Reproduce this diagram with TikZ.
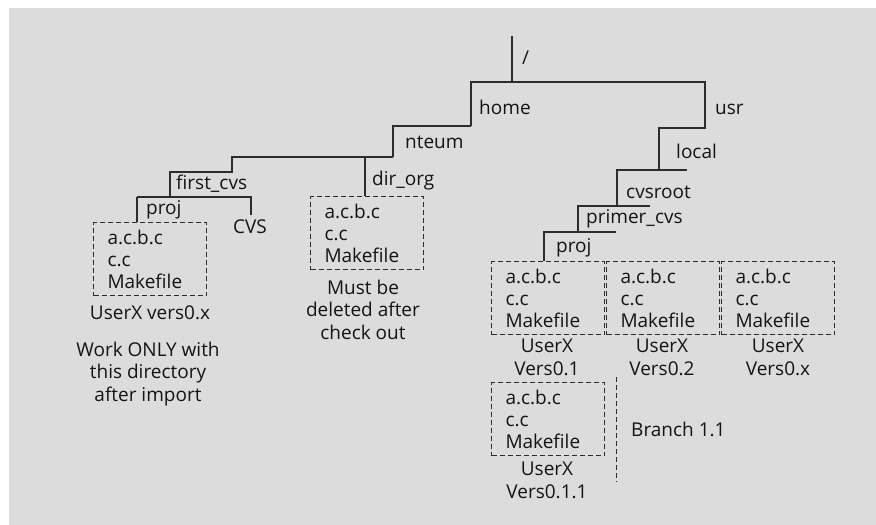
\documentclass[tikz,border=0pt]{standalone}
\usepackage{fontspec}
\setmainfont{Open Sans}
\definecolor{bg}{HTML}{DCDCDC}
\definecolor{ink}{HTML}{141414}
\begin{document}
\begin{tikzpicture}[x=1pt,y=-1pt,
  every node/.style={font=\fontsize{19}{22}\selectfont, text=ink, inner sep=0pt},
  lbl/.style={anchor=base west},
  captxt/.style={anchor=base, align=center, font=\fontsize{19}{22.5}\selectfont},
  tree/.style={draw=ink!90, line width=1.3pt},
  filebox/.style={draw=ink!90, dash pattern=on 5pt off 3pt, line width=1pt,
    anchor=north west, minimum width=113pt, minimum height=73pt,
    align=left, text width=85pt, inner xsep=14pt, inner ysep=0pt},
  branch/.style={draw=ink!90, dash pattern=on 5pt off 3pt, line width=1pt}]
\useasboundingbox (0,0) rectangle (876,525);
\fill[bg] (9,8) rectangle (876,525);

% files boxes
\node[filebox] (bx1) at (93,222) {a.c.b.c\\c.c\\Makefile};
\node[filebox] (bx2) at (310,196) {a.c.b.c\\c.c\\Makefile};
\node[filebox] (bx3) at (491,261) {a.c.b.c\\c.c\\Makefile};
\node[filebox] (bx4) at (606,261) {a.c.b.c\\c.c\\Makefile};
\node[filebox] (bx5) at (721,261) {a.c.b.c\\c.c\\Makefile};
\node[filebox] (bx6) at (491,382) {a.c.b.c\\c.c\\Makefile};

% tree coordinates
\coordinate (root) at (512,36);
\coordinate (rj) at (512,82);
\coordinate (hj) at (471,82);
\coordinate (uj) at (705,82);
\coordinate (h1) at (471,126);
\coordinate (h2) at (393,126);
\coordinate (nj) at (393,157);
\coordinate (u1) at (705,128);
\coordinate (u2) at (659,128);
\coordinate (lj) at (659,170);
\coordinate (lr) at (687,170);
\coordinate (ll) at (617,170);
\coordinate (cj) at (617,206);
\coordinate (cr) at (650,206);
\coordinate (cl) at (578,206);
\coordinate (pj) at (578,232);
\coordinate (pr) at (616,232);
\coordinate (pl) at (544,232);
\coordinate (pb) at (544,261);
\coordinate (nl) at (232,157);
\coordinate (dj) at (365,157);
\coordinate (db) at (365,196);
\coordinate (f1) at (232,172);
\coordinate (f2) at (170,172);
\coordinate (fj) at (170,197);
\coordinate (fl) at (137,197);
\coordinate (fr) at (251,197);
\coordinate (cvsb) at (251,215);
\coordinate (fb) at (137,222);
\coordinate (brt) at (616,377);
\coordinate (brb) at (616,482);

% tree lines
\draw[tree] (root) -- (rj);
\draw[tree] (h1) -- (hj) -- (uj) -- (u1) -- (u2) -- (lj);
\draw[tree] (h1) -- (h2) -- (nj);
\draw[tree] (ll) -- (lr);
\draw[tree] (lj) -- (ll) -- (cj);
\draw[tree] (cl) -- (cr);
\draw[tree] (cj) -- (cl) -- (pj);
\draw[tree] (pl) -- (pr);
\draw[tree] (pj) -- (pl) -- (pb);
\draw[tree] (nj) -- (nl) -- (f1) -- (f2) -- (fj);
\draw[tree] (dj) -- (db);
\draw[tree] (fl) -- (fr) -- (cvsb);
\draw[tree] (fl) -- (fb);
\draw[branch] (brt) -- (brb);

% labels
\node[lbl] (lroot) at (522,64) {/};
\node[lbl] (lhome) at (479,114) {home};
\node[lbl] (lusr) at (715,114) {usr};
\node[lbl] (lnteum) at (405,148) {nteum};
\node[lbl] (llocal) at (676,158) {local};
\node[lbl] (ldir) at (372,185) {dir\_org};
\node[lbl] (lfirst) at (176,189) {first\_cvs};
\node[lbl] (lcvsroot) at (626,198) {cvsroot};
\node[lbl] (lproj1) at (146,214) {proj};
\node[lbl] (lprimer) at (586,223) {primer\_cvs};
\node[lbl] (lcvs) at (233,233) {CVS};
\node[lbl] (lproj2) at (556,252) {proj};

% captions (anchor = baseline of last line)
\node[captxt] (c1) at (150,319) {UserX vers0.x};
\node[captxt] (c2) at (148,401) {Work ONLY with\\this directory\\after import};
\node[captxt] (c3) at (363,339) {Must be\\deleted after\\check out};
\node[captxt] (c4) at (547,375) {UserX\\Vers0.1};
\node[captxt] (c5) at (662,375) {UserX\\Vers0.2};
\node[captxt] (c6) at (778,375) {UserX\\Vers0.x};
\node[captxt] (c7) at (547,498) {UserX\\Vers0.1.1};
\node[lbl] (lbranch) at (631,436) {Branch 1.1};
\end{tikzpicture}
\end{document}
